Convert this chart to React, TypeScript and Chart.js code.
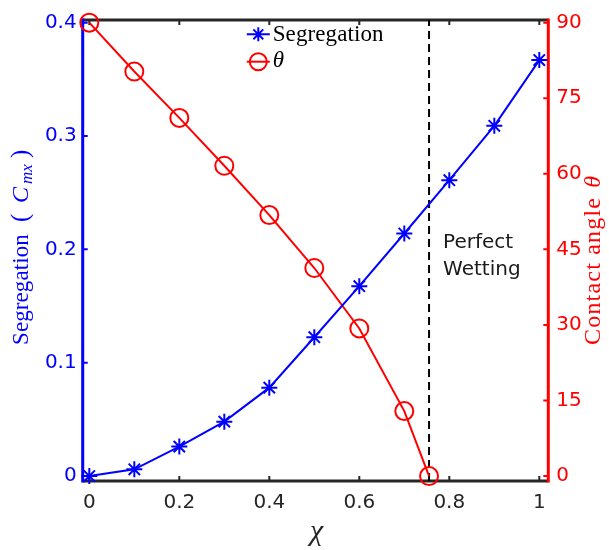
import React, { useEffect, useRef } from "react";
import { Chart, registerables } from "chart.js";

Chart.register(...registerables);

// ---- data ----
const chiValues = [0, 0.1, 0.2, 0.3, 0.4, 0.5, 0.6, 0.7, 0.8, 0.9, 1];
const segregationValues = [0, 0.006, 0.026, 0.048, 0.078, 0.1225, 0.1675, 0.214, 0.261, 0.309, 0.367];
const thetaChiValues = [0, 0.1, 0.2, 0.3, 0.4, 0.5, 0.6, 0.7, 0.755];
const thetaValues = [90, 80.3, 71.1, 61.6, 51.8, 41.3, 29.3, 12.9, 0];
const perfectWettingChi = 0.755;
const xTickValues = [0, 0.2, 0.4, 0.6, 0.8, 1];
const leftTickValues = [0, 0.1, 0.2, 0.3, 0.4];
const rightTickValues = [0, 15, 30, 45, 60, 75, 90];
const xLimits = [-0.0147, 1.02];
const leftLimits = [-0.00435, 0.40235];
const rightLimits = [-0.98, 90.53];
const legendLabels = ["Segregation", "\u03B8"];
const annotationLines = ["Perfect", "Wetting"];

const BLUE = "#0000ff";
const RED = "#ff0000";
const DARK = "#262626";
const SANS = '"DejaVu Sans", sans-serif';
const SERIF = '"Liberation Serif", "Times New Roman", serif';

const fmt = (v: any) => String(parseFloat(Number(v).toFixed(3)));

export default function App() {
  const ref = useRef<HTMLCanvasElement>(null);

  useEffect(() => {
    const canvas = ref.current as HTMLCanvasElement;

    const axesPlugin = {
      id: "matlabAxes",
      beforeDatasetsDraw(chart: any) {
        const { ctx, chartArea: a, scales } = chart;
        const xs = scales.x, ys = scales.y, y1 = scales.y1;
        const tl = 5;
        ctx.save();
        ctx.lineCap = "butt";
        ctx.strokeStyle = DARK;
        ctx.lineWidth = 2;
        ctx.beginPath();
        for (const v of xTickValues) {
          const px = xs.getPixelForValue(v);
          ctx.moveTo(px, a.bottom);
          ctx.lineTo(px, a.bottom - tl);
          ctx.moveTo(px, a.top);
          ctx.lineTo(px, a.top + tl);
        }
        ctx.stroke();
        ctx.lineWidth = 3;
        ctx.beginPath();
        ctx.moveTo(a.left, a.top);
        ctx.lineTo(a.right, a.top);
        ctx.moveTo(a.left, a.bottom);
        ctx.lineTo(a.right, a.bottom);
        ctx.stroke();
        ctx.strokeStyle = BLUE;
        ctx.lineWidth = 2;
        ctx.beginPath();
        for (const v of leftTickValues) {
          const py = ys.getPixelForValue(v);
          ctx.moveTo(a.left, py);
          ctx.lineTo(a.left + tl, py);
        }
        ctx.stroke();
        ctx.lineWidth = 3;
        ctx.beginPath();
        ctx.moveTo(a.left, a.top - 1.5);
        ctx.lineTo(a.left, a.bottom + 1.5);
        ctx.stroke();
        ctx.strokeStyle = RED;
        ctx.lineWidth = 2;
        ctx.beginPath();
        for (const v of rightTickValues) {
          const py = y1.getPixelForValue(v);
          ctx.moveTo(a.right, py);
          ctx.lineTo(a.right - tl, py);
        }
        ctx.stroke();
        ctx.lineWidth = 3;
        ctx.beginPath();
        ctx.moveTo(a.right, a.top - 1.5);
        ctx.lineTo(a.right, a.bottom + 1.5);
        ctx.stroke();
        ctx.restore();
      },
    };

    const textPlugin = {
      id: "matlabText",
      afterDraw(chart: any) {
        const { ctx, chartArea: a, scales } = chart;
        const xs = scales.x;
        ctx.save();
        // Perfect Wetting
        ctx.fillStyle = "#1a1a1a";
        ctx.font = `20px ${SANS}`;
        ctx.textAlign = "left";
        ctx.textBaseline = "alphabetic";
        const tx = xs.getPixelForValue(perfectWettingChi) + 14;
        ctx.fillText(annotationLines[0], tx, 248);
        ctx.fillText(annotationLines[1], tx, 275);

        // x label
        ctx.fillStyle = DARK;
        ctx.font = `italic 30px ${SERIF}`;
        ctx.textAlign = "center";
        ctx.fillText("\u03C7", (a.left + a.right) / 2 + 1, 540);

        // left title (rotated)
        ctx.save();
        ctx.translate(28, 345);
        ctx.rotate(-Math.PI / 2);
        ctx.fillStyle = BLUE;
        ctx.textAlign = "left";
        ctx.font = `23px ${SERIF}`;
        (ctx as any).letterSpacing = "0.1px";
        ctx.fillText("Segregation", 0, 0);
        (ctx as any).letterSpacing = "0px";
        ctx.font = `25px ${SERIF}`;
        ctx.fillText("(", 123, 0);
        ctx.font = `italic 24px ${SERIF}`;
        ctx.fillText("C", 142, 0);
        ctx.font = `italic 17px ${SERIF}`;
        ctx.fillText("mx", 161, 4);
        ctx.font = `25px ${SERIF}`;
        ctx.fillText(")", 187, 0);
        ctx.restore();

        // right title (rotated)
        ctx.save();
        ctx.translate(600, 345);
        ctx.rotate(-Math.PI / 2);
        ctx.fillStyle = RED;
        ctx.textAlign = "left";
        ctx.font = `24px ${SERIF}`;
        (ctx as any).letterSpacing = "1.2px";
        ctx.fillText("Contact angle", 0, 0);
        const w = ctx.measureText("Contact angle").width;
        (ctx as any).letterSpacing = "0px";
        ctx.font = `italic 24px ${SERIF}`;
        ctx.fillText("\u03B8", w + 9, 0);
        ctx.restore();

        // legend
        const lx = 258.3;
        const rows = [34.3, 61.7];
        ctx.lineWidth = 2;
        ctx.strokeStyle = BLUE;
        ctx.beginPath();
        ctx.moveTo(lx - 11.5, rows[0]);
        ctx.lineTo(lx + 11.5, rows[0]);
        const r = 7;
        ctx.moveTo(lx, rows[0] - r);
        ctx.lineTo(lx, rows[0] + r);
        const d = r * Math.SQRT1_2;
        ctx.moveTo(lx - d, rows[0] - d);
        ctx.lineTo(lx + d, rows[0] + d);
        ctx.moveTo(lx - d, rows[0] + d);
        ctx.lineTo(lx + d, rows[0] - d);
        ctx.stroke();
        ctx.strokeStyle = RED;
        ctx.beginPath();
        ctx.moveTo(lx - 11.5, rows[1]);
        ctx.lineTo(lx + 11.5, rows[1]);
        ctx.stroke();
        ctx.beginPath();
        ctx.arc(lx, rows[1], 8.5, 0, Math.PI * 2);
        ctx.stroke();
        ctx.fillStyle = "#000";
        ctx.textAlign = "left";
        ctx.font = `23px ${SERIF}`;
        (ctx as any).letterSpacing = "0.1px";
        ctx.fillText(legendLabels[0], 272.7, 40.5);
        (ctx as any).letterSpacing = "0px";
        ctx.font = `italic 23px ${SERIF}`;
        ctx.fillText(legendLabels[1], 272.7, 67);
        ctx.restore();
      },
    };

    const tickFont = { family: SANS, size: 20 };

    const chart = new Chart(canvas, {
      type: "line",
      data: {
        datasets: [
          {
            label: legendLabels[0],
            data: chiValues.map((x, i) => ({ x, y: segregationValues[i] })),
            yAxisID: "y",
            borderColor: BLUE,
            backgroundColor: BLUE,
            borderWidth: 2,
            pointStyle: "star",
            pointRadius: 8,
            pointBorderWidth: 2,
            pointBorderColor: BLUE,
            pointBackgroundColor: BLUE,
            clip: false,
            tension: 0,
          } as any,
          {
            label: legendLabels[1],
            data: thetaChiValues.map((x, i) => ({ x, y: thetaValues[i] })),
            yAxisID: "y1",
            borderColor: RED,
            backgroundColor: "rgba(0,0,0,0)",
            borderWidth: 2,
            pointStyle: "circle",
            pointRadius: 9,
            pointBorderWidth: 2,
            pointBorderColor: RED,
            pointBackgroundColor: "rgba(0,0,0,0)",
            clip: false,
            tension: 0,
          } as any,
          {
            label: "Perfect Wetting",
            data: [
              { x: perfectWettingChi, y: leftLimits[0] },
              { x: perfectWettingChi, y: leftLimits[1] },
            ],
            yAxisID: "y",
            borderColor: "#000000",
            borderWidth: 2,
            borderDash: [8, 5],
            pointRadius: 0,
            clip: false,
          } as any,
        ],
      },
      options: {
        responsive: false,
        maintainAspectRatio: false,
        animation: false,
        devicePixelRatio: 1,
        events: [],
        layout: { padding: { top: 13, left: 0, right: 0, bottom: 0 } },
        plugins: {
          legend: { display: false },
          tooltip: { enabled: false },
          title: { display: false },
        },
        scales: {
          x: {
            type: "linear",
            position: "bottom",
            min: xLimits[0],
            max: xLimits[1],
            afterBuildTicks: (s: any) => {
              s.ticks = xTickValues.map((v) => ({ value: v }));
            },
            afterFit: (s: any) => {
              s.height = 69;
            },
            grid: { display: false, drawTicks: false },
            border: { display: false },
            ticks: {
              color: DARK,
              font: tickFont,
              padding: 10,
              maxRotation: 0,
              autoSkip: false,
              callback: (v: any) => fmt(v),
            },
          },
          y: {
            type: "linear",
            position: "left",
            min: leftLimits[0],
            max: leftLimits[1],
            afterBuildTicks: (s: any) => {
              s.ticks = leftTickValues.map((v) => ({ value: v }));
            },
            afterFit: (s: any) => {
              s.width = 82.7;
            },
            grid: { display: false, drawTicks: false },
            border: { display: false },
            ticks: {
              color: BLUE,
              font: tickFont,
              padding: 6,
              autoSkip: false,
              callback: (v: any) => fmt(v),
            },
          },
          y1: {
            type: "linear",
            position: "right",
            min: rightLimits[0],
            max: rightLimits[1],
            afterBuildTicks: (s: any) => {
              s.ticks = rightTickValues.map((v) => ({ value: v }));
            },
            afterFit: (s: any) => {
              s.width = 60.7;
            },
            grid: { display: false, drawTicks: false },
            border: { display: false },
            ticks: {
              color: RED,
              font: tickFont,
              padding: 8,
              autoSkip: false,
              callback: (v: any) => fmt(v),
            },
          },
        },
      } as any,
      plugins: [axesPlugin, textPlugin],
    });

    return () => chart.destroy();
  }, []);

  return (
    <div style={{ position: "fixed", left: 0, top: 0, width: 609, height: 550, background: "#ffffff" }}>
      <canvas ref={ref} width={609} height={550} style={{ display: "block", width: 609, height: 550 }} />
    </div>
  );
}
